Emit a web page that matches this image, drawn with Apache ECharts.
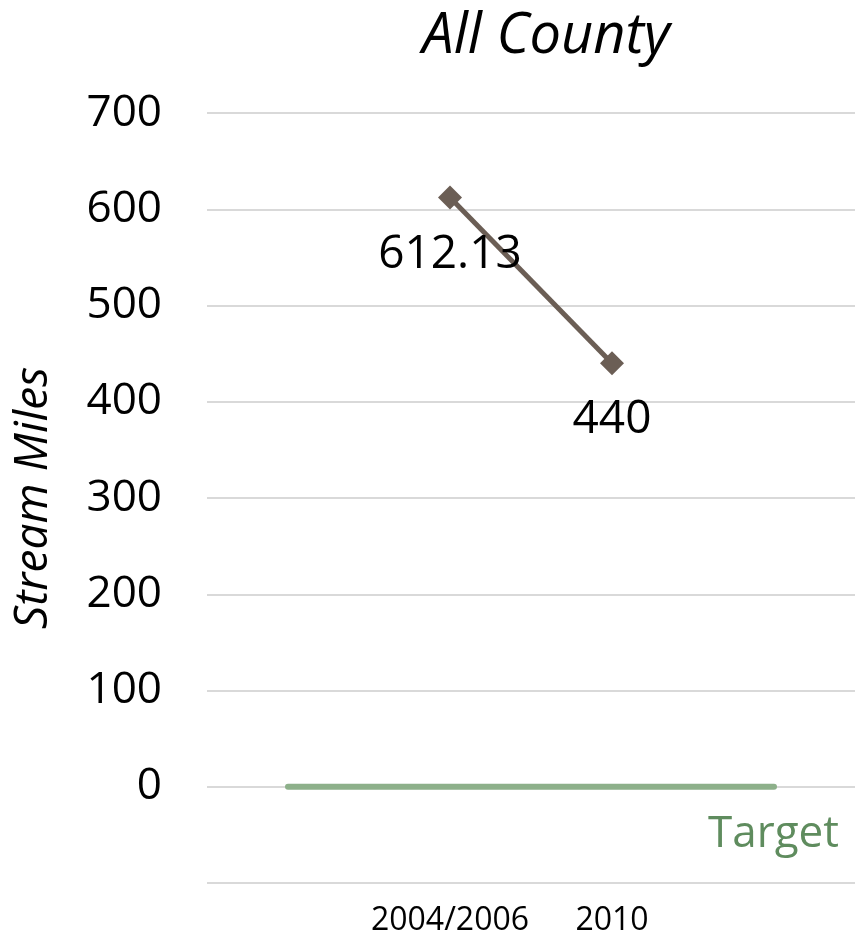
<!DOCTYPE html>
<html>
<head>
<meta charset="utf-8">
<script src="https://cdn.jsdelivr.net/npm/echarts@6/dist/echarts.min.js"></script>
<style>
  html, body { margin: 0; padding: 0; background: #fff; }
  #chart { width: 862px; height: 947px; }
</style>
</head>
<body>
<div id="chart"></div>
<script>
// categories (empty slots at each end, as in the original sheet)
const categories = ['', '2004/2006', '2010', '']
const streamMiles = [null, 612.13, 440, null]
const target = [0, 0, 0, 0]
const yTicks = { min: -100, max: 700, interval: 100 }

const font = '"Open Sans", sans-serif'

const chart = echarts.init(document.getElementById('chart'))

chart.setOption({
  animation: false,
  backgroundColor: '#fff',
  title: {
    text: 'All County',
    left: 541,
    textAlign: 'center',
    top: 4,
    textStyle: {
      fontFamily: font,
      fontStyle: 'italic',
      fontWeight: 'normal',
      fontSize: 56,
      color: '#000'
    }
  },
  grid: {
    left: 207,
    right: 7,
    top: 113,
    bottom: 64,
    containLabel: false,
    outerBoundsMode: 'none'
  },
  xAxis: {
    type: 'category',
    data: categories,
    boundaryGap: true,
    axisLine: { show: false },
    axisTick: { show: false },
    axisLabel: {
      interval: 0,
      margin: 22,
      fontFamily: font,
      fontSize: 32,
      color: '#000'
    }
  },
  yAxis: {
    type: 'value',
    min: yTicks.min,
    max: yTicks.max,
    interval: yTicks.interval,
    name: 'Stream Miles',
    nameLocation: 'middle',
    nameGap: 150,
    nameRotate: 90,
    nameTextStyle: {
      fontFamily: font,
      fontStyle: 'italic',
      fontSize: 46,
      color: '#000'
    },
    axisLine: { show: false },
    axisTick: { show: false },
    axisLabel: {
      margin: 45,
      fontFamily: font,
      fontSize: 44,
      color: '#000',
      formatter: (v) => (v < 0 ? '' : String(v))
    },
    splitLine: {
      lineStyle: { color: '#d9d9d9', width: 2 }
    }
  },
  series: [
    {
      name: 'Stream Miles',
      type: 'line',
      data: streamMiles,
      symbol: 'diamond',
      symbolSize: 24,
      lineStyle: { color: '#6b5e55', width: 5 },
      itemStyle: { color: '#6b5e55' },
      label: {
        show: true,
        position: 'bottom',
        distance: 22,
        fontFamily: font,
        fontSize: 46,
        color: '#000'
      },
      z: 3
    },
    {
      name: 'Target',
      type: 'line',
      data: target,
      symbol: 'none',
      lineStyle: { color: '#8db08a', width: 6, cap: 'round' },
      endLabel: {
        show: true,
        formatter: 'Target',
        fontFamily: font,
        fontSize: 44,
        color: '#5f8c5e',
        offset: [-74, 48]
      },
      z: 2
    }
  ]
})
</script>
</body>
</html>
